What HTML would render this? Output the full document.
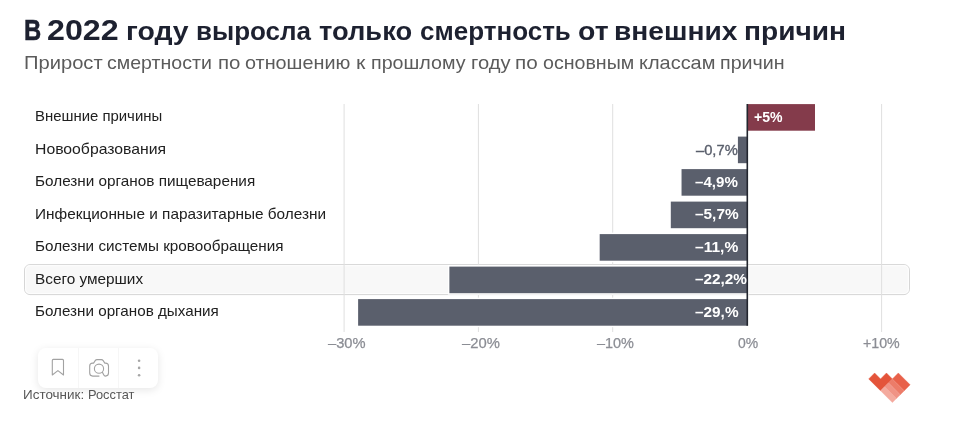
<!DOCTYPE html>
<html lang="ru">
<head>
<meta charset="utf-8">
<title>В 2022 году выросла только смертность от внешних причин</title>
<style>
  html, body { margin: 0; padding: 0; background: #ffffff; }
  body { width: 972px; height: 427px; position: relative; overflow: hidden;
         font-family: "Liberation Sans", sans-serif; }
  #page { position: absolute; left: 0; top: 0; width: 972px; height: 427px; will-change: transform; }
  svg { position: absolute; left: 0; top: 0; }
  .x { position: absolute; white-space: nowrap; line-height: 1; transform-origin: 0 0; }
  .tw { font-size: 26.5px; font-weight: bold; color: #1d2130; }
  .sw { font-size: 18.5px; color: #5b5b5b; }
  .lab { font-size: 15px; color: #202020; }
  .val { font-size: 14px; font-weight: bold; color: #ffffff; }
  .vald { font-size: 14px; color: #5a5f6c; -webkit-text-stroke: 0.35px #5a5f6c; }
  .ax { font-size: 14px; color: #8b8d94; -webkit-text-stroke: 0.25px #8b8d94; }
  .src { font-size: 13px; color: #585858; }
  #tools { position: absolute; left: 38px; top: 348px; width: 120px; height: 40px; border-radius: 8px;
           background: #fff; box-shadow: 0 2px 9px rgba(0,0,0,0.10); }
  #tools .sep { position: absolute; top: 0; width: 1px; height: 40px; background: #f6f6f6; }
</style>
</head>
<body>
<div id="page">
  <h1 style="margin:0;font:inherit">
  <span class="x tw" style="left:24.21px;top:16.00px;transform:scaleX(0.8220);font-size:29px;-webkit-text-stroke:0.5px #1d2130">В</span>
  <span class="x tw" style="left:47.08px;top:16.00px;transform:scaleX(1.1100);font-size:29px">2022</span>
  <span class="x tw" style="left:126.02px;top:18.00px;transform:scaleX(1.0723)">году</span>
  <span class="x tw" style="left:195.69px;top:18.00px;transform:scaleX(0.9812)">выросла</span>
  <span class="x tw" style="left:319.20px;top:18.00px;transform:scaleX(1.0301)">только</span>
  <span class="x tw" style="left:419.78px;top:18.00px;transform:scaleX(0.9812)">смертность</span>
  <span class="x tw" style="left:577.64px;top:18.00px;transform:scaleX(1.0716)">от</span>
  <span class="x tw" style="left:613.88px;top:18.00px;transform:scaleX(1.0621)">внешних</span>
  <span class="x tw" style="left:743.97px;top:18.00px;transform:scaleX(1.0612)">причин</span>
  </h1>
  <div>
  <span class="x sw" style="left:23.84px;top:54.00px;transform:scaleX(1.0889)">Прирост</span>
  <span class="x sw" style="left:107.27px;top:54.00px;transform:scaleX(1.0571)">смертности</span>
  <span class="x sw" style="left:217.75px;top:54.00px;transform:scaleX(1.1032)">по</span>
  <span class="x sw" style="left:245.08px;top:54.00px;transform:scaleX(1.0706)">отношению</span>
  <span class="x sw" style="left:356.00px;top:54.00px;transform:scaleX(1.1540)">к</span>
  <span class="x sw" style="left:370.91px;top:54.00px;transform:scaleX(1.0629)">прошлому</span>
  <span class="x sw" style="left:471.00px;top:54.00px;transform:scaleX(1.0879)">году</span>
  <span class="x sw" style="left:515.49px;top:54.00px;transform:scaleX(1.1171)">по</span>
  <span class="x sw" style="left:542.67px;top:54.00px;transform:scaleX(1.0597)">основным</span>
  <span class="x sw" style="left:639.00px;top:54.00px;transform:scaleX(1.0781)">классам</span>
  <span class="x sw" style="left:719.80px;top:54.00px;transform:scaleX(1.0608)">причин</span>
  </div>

  <svg id="chart" width="972" height="427" viewBox="0 0 972 427">
    <rect x="24.5" y="264.6" width="885" height="30" rx="5.5" ry="5.5" fill="#f8f8f8" stroke="#d6d6d6" stroke-width="1"/>
    <rect x="25.6" y="265.7" width="882.8" height="27.8" rx="4.5" ry="4.5" fill="none" stroke="#ffffff" stroke-opacity="0.75" stroke-width="1.2"/>
    <rect x="343.60" y="104" width="1" height="228" fill="#dfdfdf"/>
    <rect x="477.90" y="104" width="1" height="228" fill="#dfdfdf"/>
    <rect x="612.20" y="104" width="1" height="228" fill="#dfdfdf"/>
    <rect x="881.10" y="104" width="1" height="228" fill="#dfdfdf"/>
    <rect x="745.80" y="102.60" width="70.70" height="29.60" fill="#ffffff"/>
    <rect x="747.30" y="104.10" width="67.70" height="26.60" fill="#843b4b"/>
    <rect x="736.41" y="135.10" width="12.39" height="29.60" fill="#ffffff"/>
    <rect x="737.91" y="136.60" width="9.39" height="26.60" fill="#5a5f6c"/>
    <rect x="680.04" y="167.60" width="68.76" height="29.60" fill="#ffffff"/>
    <rect x="681.54" y="169.10" width="65.76" height="26.60" fill="#5a5f6c"/>
    <rect x="669.31" y="200.10" width="79.49" height="29.60" fill="#ffffff"/>
    <rect x="670.81" y="201.60" width="76.49" height="26.60" fill="#5a5f6c"/>
    <rect x="598.18" y="232.60" width="150.62" height="29.60" fill="#ffffff"/>
    <rect x="599.68" y="234.10" width="147.62" height="26.60" fill="#5a5f6c"/>
    <rect x="447.88" y="265.10" width="300.92" height="29.60" fill="#ffffff"/>
    <rect x="449.38" y="266.60" width="297.92" height="26.60" fill="#5a5f6c"/>
    <rect x="356.62" y="297.60" width="392.18" height="29.60" fill="#ffffff"/>
    <rect x="358.12" y="299.10" width="389.18" height="26.60" fill="#5a5f6c"/>
    <rect x="746.5" y="104" width="1.6" height="221.8" fill="#23262f"/>
  </svg>

  <span class="x lab" style="left:34.88px;top:108.00px;transform:scaleX(0.9940)">Внешние причины</span>
  <span class="x lab" style="left:34.94px;top:141.00px;transform:scaleX(1.0504)">Новообразования</span>
  <span class="x lab" style="left:34.90px;top:173.00px;transform:scaleX(1.0198)">Болезни органов пищеварения</span>
  <span class="x lab" style="left:34.54px;top:206.00px;transform:scaleX(1.0245)">Инфекционные и паразитарные болезни</span>
  <span class="x lab" style="left:34.90px;top:238.00px;transform:scaleX(1.0169)">Болезни системы кровообращения</span>
  <span class="x lab" style="left:34.90px;top:271.00px;transform:scaleX(1.0221)">Всего умерших</span>
  <span class="x lab" style="left:34.91px;top:303.00px;transform:scaleX(1.0138)">Болезни органов дыхания</span>

  <span class="x val" style="left:754.24px;top:110.00px;transform:scaleX(1.0056)">+5%</span>
  <span class="x val" style="left:695.38px;top:175.00px;transform:scaleX(1.0789)">–4,9%</span>
  <span class="x val" style="left:694.92px;top:207.00px;transform:scaleX(1.0989)">–5,7%</span>
  <span class="x val" style="left:695.01px;top:240.00px;transform:scaleX(1.1102)">–11,%</span>
  <span class="x val" style="left:695.25px;top:272.00px;transform:scaleX(1.0953)">–22,2%</span>
  <span class="x val" style="left:694.87px;top:305.00px;transform:scaleX(1.0968)">–29,%</span>
  <span class="x vald" style="left:695.73px;top:143.00px;transform:scaleX(1.0506)">–0,7%</span>

  <span class="x ax" style="left:327.65px;top:336.00px;transform:scaleX(1.0492)">–30%</span>
  <span class="x ax" style="left:462.12px;top:336.00px;transform:scaleX(1.0555)">–20%</span>
  <span class="x ax" style="left:596.71px;top:336.00px;transform:scaleX(1.0326)">–10%</span>
  <span class="x ax" style="left:737.60px;top:336.00px;transform:scaleX(0.9965)">0%</span>
  <span class="x ax" style="left:863.28px;top:336.00px;transform:scaleX(1.0143)">+10%</span>

  <span class="x src" style="left:22.84px;top:388.00px;transform:scaleX(1.0352)">Источник:</span>
  <span class="x src" style="left:88.10px;top:388.00px;transform:scaleX(0.9856)">Росстат</span>

  <div id="tools">
    <div class="sep" style="left:40px"></div>
    <div class="sep" style="left:80px"></div>
    <svg width="120" height="40" viewBox="0 0 120 40" fill="none" stroke="#a2a2a2" stroke-width="1.1" stroke-linecap="round" stroke-linejoin="round">
      <path d="M15.3 11.4 H24.5 Q25.5 11.4 25.5 12.4 V27 L19.9 22.6 L14.3 27 V12.4 Q14.3 11.4 15.3 11.4 Z"/>
      <path d="M61 28.1 H54.7 Q51.7 28.1 51.7 25.1 V18.1 Q51.7 15.1 54.7 15.1 H55.6 L57.2 12.6 Q57.9 11.6 59 11.6 H63.4 Q64.5 11.6 65.2 12.6 L66.8 15.1 H67.5 Q70.5 15.1 70.5 18.1 V25.1 Q70.5 28.1 67.5 28.1 Q66 28.1 64.4 24.2"/>
      <circle cx="61" cy="20.7" r="4.6"/>
      <g fill="#a6a6a6" stroke="none">
        <circle cx="101.1" cy="12.7" r="1.3"/>
        <circle cx="101.1" cy="19.9" r="1.3"/>
        <circle cx="101.1" cy="27.2" r="1.3"/>
      </g>
    </svg>
  </div>

  <svg id="logo" width="60" height="45" viewBox="0 0 60 45" style="left:860px;top:365px">
    <polygon points="14.62,7.98 20.54,13.90 26.46,7.98 32.38,13.90 20.54,25.74 8.70,13.90" fill="#e4543a" stroke="#e4543a" stroke-width="0.4"/>
    <polygon points="38.30,7.98 50.14,19.82 44.22,25.74 32.38,13.90" fill="#e8614a" stroke="#e8614a" stroke-width="0.4"/>
    <polygon points="32.38,13.90 44.22,25.74 40.25,29.71 28.41,17.87" fill="#ec7c69" stroke="#ec7c69" stroke-width="0.4"/>
    <polygon points="28.41,17.87 40.25,29.71 36.35,33.61 24.51,21.77" fill="#f09385" stroke="#f09385" stroke-width="0.4"/>
    <polygon points="24.51,21.77 36.35,33.61 32.38,37.58 20.54,25.74" fill="#f4aa9e" stroke="#f4aa9e" stroke-width="0.4"/>
  </svg>
</div>
</body>
</html>
